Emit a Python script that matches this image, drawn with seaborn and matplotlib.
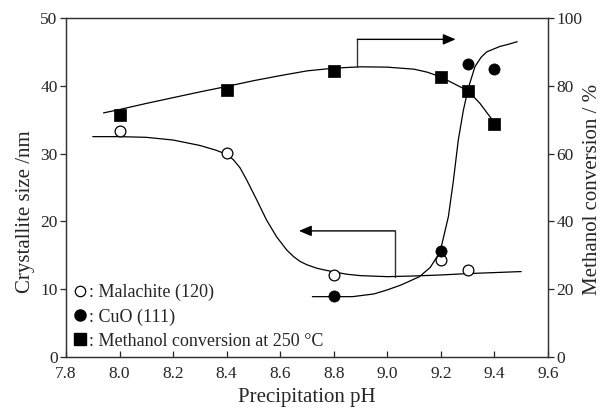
import matplotlib
matplotlib.use("Agg")
import matplotlib.pyplot as plt
import seaborn as sns
from matplotlib.lines import Line2D

sns.set_style("ticks")
plt.rcParams["font.family"] = ["Liberation Serif", "DejaVu Serif"]

# Measured points
ph_malachite = [8.0, 8.4, 8.8, 9.2, 9.3]
size_malachite = [33.3, 30.1, 12.1, 14.3, 12.9]

ph_cuo = [8.8, 9.2, 9.3, 9.4]
size_cuo = [9.05, 15.6, 43.2, 42.5]

ph_conv = [8.0, 8.4, 8.8, 9.2, 9.3, 9.4]
conversion = [71.4, 78.8, 84.4, 82.7, 78.6, 68.7]

# Trend curves
trend_mal_ph = [7.90, 8.00, 8.10, 8.20, 8.30, 8.36, 8.40, 8.425, 8.45, 8.475, 8.512,
                8.549, 8.587, 8.624, 8.65, 8.674, 8.70, 8.736, 8.77, 8.80, 8.85,
                8.90, 9.00, 9.10, 9.20, 9.30, 9.40, 9.50]
trend_mal_size = [32.5, 32.5, 32.4, 32.0, 31.2, 30.5, 29.9, 29.1, 27.9, 26.1, 23.2,
                  20.2, 17.7, 15.8, 14.8, 14.1, 13.6, 13.1, 12.8, 12.55, 12.2,
                  12.0, 11.85, 11.95, 12.1, 12.3, 12.45, 12.6]

trend_cuo_ph = [8.72, 8.80, 8.87, 8.95, 9.00, 9.05, 9.12, 9.16, 9.197, 9.228, 9.247,
                9.265, 9.284, 9.302, 9.327, 9.35, 9.371, 9.42, 9.45, 9.485]
trend_cuo_size = [8.9, 8.9, 8.9, 9.3, 9.9, 10.6, 11.85, 13.2, 15.5, 20.7, 26.1,
                  32.0, 36.4, 39.6, 42.8, 44.2, 45.0, 45.8, 46.1, 46.5]

trend_conv_ph = [7.94, 8.00, 8.10, 8.20, 8.30, 8.40, 8.50, 8.60, 8.70, 8.80, 8.90,
                 9.00, 9.10, 9.15, 9.197, 9.247, 9.302, 9.346, 9.402]
trend_conv = [72.0, 73.0, 74.8, 76.5, 78.2, 79.8, 81.5, 83.0, 84.4, 85.2, 85.6,
              85.5, 84.9, 84.0, 82.7, 80.7, 78.5, 74.8, 68.9]

legend_labels = [": Malachite (120)", ": CuO (111)", ": Methanol conversion at 250 \u00b0C"]

fig = plt.figure(figsize=(6.07, 4.08), dpi=100)
ax = fig.add_axes([0.1087, 0.125, 0.7941, 0.8309])
ax2 = ax.twinx()

lw = 0.9
sns.lineplot(x=trend_mal_ph, y=trend_mal_size, ax=ax, color="black", lw=lw, sort=False)
sns.lineplot(x=trend_cuo_ph, y=trend_cuo_size, ax=ax, color="black", lw=lw, sort=False)
sns.lineplot(x=trend_conv_ph, y=trend_conv, ax=ax2, color="black", lw=lw, sort=False)

sns.scatterplot(x=ph_malachite, y=size_malachite, ax=ax, marker="o", s=60,
                facecolor="white", edgecolor="black", linewidth=0.9, zorder=5)
sns.scatterplot(x=ph_cuo, y=size_cuo, ax=ax, marker="o", s=65,
                color="black", edgecolor="black", linewidth=0.5, zorder=5)
sns.scatterplot(x=ph_conv, y=conversion, ax=ax2, marker="s", s=75,
                color="black", edgecolor="black", linewidth=0.5, zorder=5)

# Pointer brackets indicating which axis each curve belongs to
ax.plot([9.03, 9.03], [11.85, 18.6], color="#333333", lw=1.0)
ax.annotate("", xy=(8.67, 18.6), xytext=(9.03, 18.6),
            arrowprops=dict(arrowstyle="-|>,head_length=0.75,head_width=0.32",
                            color="black", lw=1.0, shrinkA=0, shrinkB=0))
ax2.plot([8.888, 8.888], [85.6, 93.7], color="#333333", lw=1.0)
ax2.annotate("", xy=(9.255, 93.7), xytext=(8.888, 93.7),
             arrowprops=dict(arrowstyle="-|>,head_length=0.75,head_width=0.32",
                             color="black", lw=1.0, shrinkA=0, shrinkB=0))

ax.set_xlim(7.8, 9.6)
ax.set_ylim(0, 50)
ax2.set_ylim(0, 100)
ax.set_xticks([7.8, 8.0, 8.2, 8.4, 8.6, 8.8, 9.0, 9.2, 9.4, 9.6])
ax.set_xticklabels(["7.8", "8.0", "8.2", "8.4", "8.6", "8.8", "9.0", "9.2", "9.4", "9.6"])
ax.set_yticks([0, 10, 20, 30, 40, 50])
ax2.set_yticks([0, 20, 40, 60, 80, 100])

fs = 12.5
ax.tick_params(axis="x", direction="in", length=4, width=0.9, labelsize=fs, pad=6.5)
ax.tick_params(axis="y", direction="out", length=4, width=0.9, labelsize=fs, pad=2)
ax2.tick_params(axis="y", direction="out", length=4, width=0.9, labelsize=fs, pad=2)
for a in (ax, ax2):
    for sp in a.spines.values():
        sp.set_visible(True)
        sp.set_linewidth(0.9)
        sp.set_color("#333333")

ax.set_xlabel("Precipitation pH", fontsize=15)
ax.set_ylabel("Crystallite size /nm", fontsize=15)
ax2.set_ylabel("Methanol conversion / %", fontsize=15)
ax.xaxis.set_label_coords(0.5, -0.092)
ax.yaxis.set_label_coords(-0.064, 0.43)
ax2.yaxis.set_label_coords(1.0726, 0.4956)

handles = [
    Line2D([], [], ls="none", marker="o", ms=7.5, mfc="white", mec="black", mew=0.9),
    Line2D([], [], ls="none", marker="o", ms=8, mfc="black", mec="black"),
    Line2D([], [], ls="none", marker="s", ms=8.5, mfc="black", mec="black"),
]
ax.legend(handles, legend_labels, loc="lower left", bbox_to_anchor=(0.0, 0.0),
          frameon=False, fontsize=13, handlelength=0.8, handletextpad=0.1,
          labelspacing=0.4, borderaxespad=0.2, borderpad=0.2)

fig.savefig("out.png", dpi=100)
